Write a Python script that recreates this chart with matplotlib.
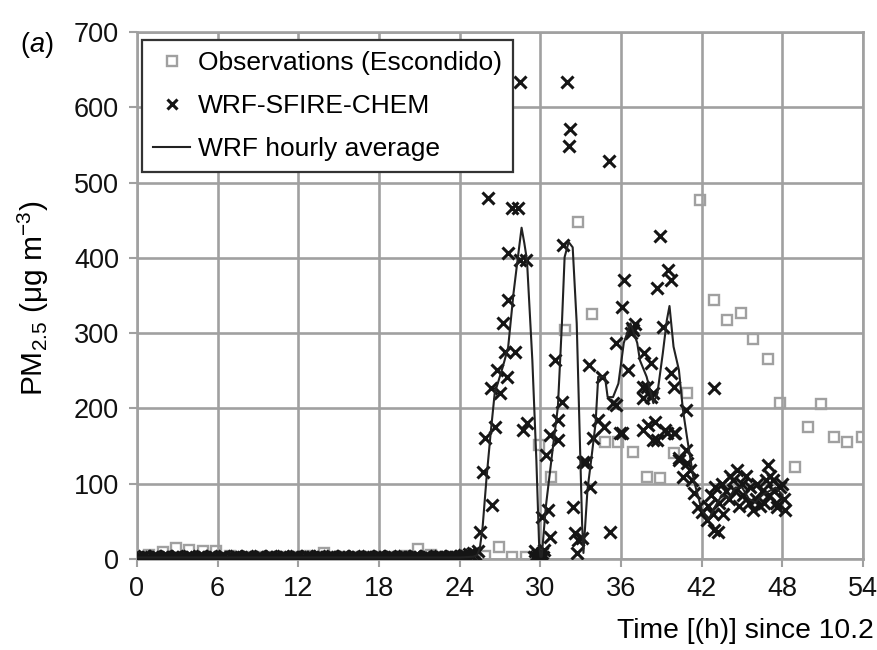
import matplotlib
matplotlib.use("Agg")
import matplotlib.pyplot as plt
import numpy as np

plt.rcParams['font.family'] = ['Liberation Sans', 'DejaVu Sans']
plt.rcParams['mathtext.fontset'] = 'custom'
plt.rcParams['mathtext.rm'] = 'Liberation Sans'
plt.rcParams['mathtext.it'] = 'Liberation Sans:italic'

# observations (Escondido), hourly
obs_t = [0.9, 1.9, 2.9, 3.9, 4.9, 5.9, 6.9, 7.9, 8.9, 9.9, 10.9, 11.9, 12.9, 13.9,
         14.9, 15.9, 16.9, 17.9, 18.9, 19.9, 20.9, 21.9, 22.9, 23.9, 24.9, 25.9,
         26.9, 27.9, 28.9, 29.9, 30.8, 31.8, 32.8, 33.8, 34.8, 35.8, 36.9, 37.9,
         38.9, 39.9, 40.9, 41.9, 42.9, 43.9, 44.9, 45.8, 46.9, 47.8, 48.9, 49.9,
         50.9, 51.8, 52.8, 53.9]
obs_v = [5, 9, 14, 12, 11, 10, 4, 3, 2, 3, 2, 3, 4, 8,
         3, 2, 2, 3, 2, 4, 13, 5, 3, 2, 3, 4,
         16, 3, 3, 151, 109, 304, 447, 326, 155, 155, 142, 109,
         108, 141, 220, 477, 344, 318, 327, 292, 266, 207, 122, 175,
         206, 162, 156, 162]

# WRF-SFIRE-CHEM, 10 min output before the plume arrives (0 - 25.33 h)
quiet_v = [2, 0, 3, 4, 1, 2, 0, 3, 4, 2, 1, 3, 2, 4, 2, 0, 3, 2, 4, 1, 2, 0, 3, 4,
           2, 1, 0, 3, 2, 4, 2, 0, 3, 4, 1, 2, 0, 3, 2, 4, 1, 0, 3, 2, 4, 2, 1, 0,
           2, 4, 3, 2, 0, 1, 3, 4, 2, 0, 3, 2, 4, 1, 2, 0, 3, 4, 2, 1, 0, 3, 2, 4,
           2, 0, 3, 1, 4, 2, 3, 0, 2, 4, 1, 2, 0, 3, 2, 4, 2, 0, 3, 1, 4, 2, 2, 0,
           3, 4, 2, 1, 0, 2, 3, 4, 2, 0, 3, 1, 4, 2, 2, 0, 3, 4, 2, 1, 0, 2, 3, 4,
           2, 0, 3, 1, 4, 2, 2, 0, 3, 4, 2, 1, 0, 2, 3, 4, 2, 0, 3, 1, 4, 2, 2, 3,
           4, 3, 5, 4, 6, 5, 8, 6, 10]
quiet_t = np.arange(len(quiet_v)) / 6.0

# WRF-SFIRE-CHEM after plume arrival
wrf_t = [25.5, 25.7, 25.9, 26.1, 26.3, 26.4, 26.6, 26.8, 27.0, 27.2, 27.4, 27.5,
         27.6, 27.6, 27.9, 28.1, 28.3, 28.5, 28.5, 28.7, 28.9, 29.0,
         29.5, 29.6, 29.7, 29.8, 29.9, 30.0, 30.1, 30.2, 30.3,
         30.1, 30.4, 30.6, 30.7, 30.7, 31.1, 31.3, 31.3, 31.6, 31.7, 32.0, 32.1,
         32.2, 32.4, 32.6, 32.7, 32.8, 33.1, 33.2, 33.4, 33.6, 33.7, 33.9, 34.3,
         34.6, 34.7, 35.1, 35.2, 35.4, 35.6, 35.6, 35.9, 36.1, 36.2, 36.1, 36.5,
         36.7, 36.8, 36.9, 37.0, 37.6, 37.6, 37.6, 37.7, 37.9, 38.0, 38.2, 38.2,
         38.4, 38.4, 38.5, 38.7, 38.7, 38.9, 39.1, 39.3, 39.4, 39.5, 39.7, 39.7,
         39.9, 39.9, 40.0, 40.3, 40.3, 40.6, 40.8, 40.8, 40.9, 41.1, 41.3, 41.4,
         41.7, 42.0, 42.4, 42.9, 42.9, 43.2,
         42.5, 42.7, 42.8, 43.0, 43.3, 43.5, 43.6, 43.8, 44.0, 44.1, 44.3, 44.5,
         44.6, 44.8, 45.0, 45.1, 45.3, 45.5, 45.6, 45.8, 46.0, 46.1, 46.3, 46.5,
         46.6, 46.8, 46.9, 47.0, 47.1, 47.3, 47.4, 47.5, 47.6, 47.8, 48.0, 48.1,
         48.2]
wrf_v = [36, 116, 161, 479, 227, 72, 175, 251, 220, 313, 275, 242,
         344, 406, 466, 275, 466, 633, 397, 171, 397, 181,
         3, 10, 2, 5, 1, 4, 8, 2, 12,
         56, 138, 65, 29, 165, 264, 185, 158, 208, 417, 633, 548,
         571, 69, 35, 8, 25, 28, 129, 129, 258, 96, 161, 185,
         242, 175, 528, 36, 207, 287, 205, 167, 335, 371, 167, 251,
         300, 307, 304, 312, 228, 214, 171, 273, 228, 178, 260, 215,
         220, 158, 182, 360, 158, 429, 308, 171, 167, 384, 371, 247,
         228, 167, 167, 131, 134, 109, 198, 145, 127, 118, 105, 88,
         69, 62, 52, 227, 38, 36,
         70, 85, 60, 95, 75, 100, 60, 90, 80, 110, 105, 90,
         118, 70, 100, 85, 110, 75, 95, 65, 80, 100, 70, 90,
         75, 105, 125, 85, 110, 105, 90, 75, 69, 95, 100, 80,
         65]

# WRF hourly average
avg_t = [0, 2, 4, 6, 8, 10, 12, 14, 16, 18, 20, 22, 24, 25.0, 25.3, 25.5, 25.7,
         26.0, 26.3, 26.6, 27.2, 27.6, 28.0, 28.3, 28.6, 28.8, 29.0, 29.4, 29.7,
         29.9, 30.0, 30.1, 30.4, 30.9, 31.3, 31.6, 31.8, 32.1, 32.4, 32.7, 32.9,
         33.1, 33.2, 33.5, 33.8, 34.1, 34.3, 34.8, 35.0, 35.4, 35.8, 36.2, 36.7,
         37.2, 37.4, 37.9, 38.4, 38.7, 39.1, 39.4, 39.6, 39.9, 40.3, 40.6, 40.9,
         41.4, 42.0, 42.5, 43.0, 43.5, 44.0, 44.5, 45.0, 45.5, 46.0, 46.5, 47.0,
         47.5, 48.0]
avg_v = [2, 2, 2, 2, 2, 2, 2, 2, 2, 2, 2, 2, 2, 3, 5, 15, 42,
         109, 167, 220, 255, 281, 353, 397, 440, 420, 397, 264, 131,
         21, 3, 3, 69, 144, 202, 313, 401, 421, 414, 313, 180,
         47, 8, 92, 135, 180, 242, 242, 215, 215, 233, 287, 313,
         287, 264, 242, 207, 220, 273, 317, 336, 282, 251, 198, 162,
         105, 65, 52, 70, 85, 80, 95, 95, 80, 75, 85, 90,
         95, 85]

fig = plt.figure(figsize=(8.77, 6.5), dpi=100)
ax = fig.add_axes([0.1562, 0.14, 0.828, 0.8108])

grid_c = '#a0a0a0'
ax.plot(obs_t, obs_v, ls='none', marker='s', ms=7.5, mfc='none', mec='#a0a0a0',
        mew=1.7, label='Observations (Escondido)', zorder=2)
ax.plot(np.concatenate([quiet_t, wrf_t]), quiet_v + wrf_v, ls='none', marker='x',
        ms=9, mec='#151515', mew=2.2, label='WRF-SFIRE-CHEM', zorder=3)
ax.plot(avg_t, avg_v, color='#222222', lw=1.5, label='WRF hourly average', zorder=4)

ax.set_xlim(0, 54)
ax.set_ylim(0, 700)
ax.set_xticks(range(0, 55, 6))
ax.set_yticks(range(0, 701, 100))
ax.grid(True, color=grid_c, lw=1.9)
ax.set_axisbelow(True)
for s in ax.spines.values():
    s.set_color(grid_c)
    s.set_linewidth(1.9)
ax.tick_params(axis='both', colors=grid_c, length=6, width=1.5, labelsize=19.5,
               labelcolor='#111111')
ax.tick_params(axis='x', pad=6)
ax.tick_params(axis='y', pad=7)

leg = ax.legend(loc='upper left', bbox_to_anchor=(0.007, 0.985), borderaxespad=0,
                fancybox=False, edgecolor='#333333', fontsize=19,
                handlelength=1.4, handletextpad=0.3, labelspacing=0.72,
                borderpad=0.42, framealpha=1)
leg.get_frame().set_linewidth(1.6)
for h in leg.legend_handles[:2]:
    h.set_markersize(7)

fig.text(33 / 877, 1 - 298 / 650, r'PM$_{2.5}$ ($\mathrm{\mu}$g m$^{-3}$)',
         rotation=90, ha='center', va='center', fontsize=21.5)
fig.text(617 / 877, 12 / 650, 'Time [(h)] since 10.2', ha='left',
         va='baseline', fontsize=20.3)
fig.text(20 / 877, 1 - 45 / 650, r'($\mathit{a}$)', ha='left', va='center',
         fontsize=19.5)

fig.savefig('out.png', dpi=100)
